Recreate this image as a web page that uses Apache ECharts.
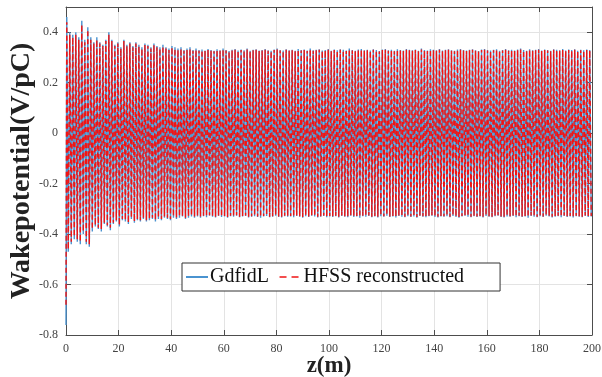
<!DOCTYPE html>
<html>
<head>
<meta charset="utf-8">
<script src="https://cdn.jsdelivr.net/npm/echarts@6/dist/echarts.min.js"></script>
<style>html,body{margin:0;padding:0;background:#fff}#c{width:602px;height:377px}</style>
</head>
<body>
<div id="c"></div>
<script>
// ---- data ----
const xTicks = [0, 20, 40, 60, 80, 100, 120, 140, 160, 180, 200];
const yTicks = [-0.8, -0.6, -0.4, -0.2, 0, 0.2, 0.4];
const seriesNames = ['GdfidL', 'HFSS reconstructed'];
// sampling grid of the extrema (m)
const zFirstPeak = 0.29;
const zHalfPeriod = 0.5714;
// value at z = 0
const gdfidlStart = -0.76;
const hfssStart = -0.68;
// successive maxima / minima of each curve (V/pC)
const gdfidlPeaks = [
0.46,0.40,0.39,0.40,0.38,0.445,0.37,0.42,0.38,0.36,0.38,0.36,0.35,0.37,0.40,
0.37,0.35,0.36,0.34,0.37,0.35,0.36,0.345,0.36,0.35,0.34,0.355,0.35,0.34,0.355,
0.345,0.34,0.35,0.34,0.335,0.345,0.34,0.335,0.34,0.33,0.335,0.34,0.33,0.335,0.33,
0.332,0.328,0.334,0.33,0.327,0.333,0.329,0.335,0.33,0.326,
0.331,0.334,0.328,0.332,0.329,0.335,0.327,0.331,0.333,0.328,
0.33,0.334,0.329,0.327,0.332,0.335,0.33,0.328,0.333,0.329,
0.331,0.327,0.334,0.33,0.332,0.328,0.335,0.329,0.331,0.333,
0.328,0.33,0.334,0.327,0.332,0.329,0.333,0.331,0.328,0.335,
0.33,0.327,0.332,0.334,0.329,0.331,0.328,0.333,0.33,0.326,
0.332,0.334,0.329,0.331,0.327,0.333,0.33,0.328,0.334,0.331,
0.329,0.332,0.327,0.335,0.33,0.328,0.333,0.331,0.329,0.334,
0.328,0.331,0.333,0.329,0.327,0.332,0.334,0.33,0.328,0.331,
0.333,0.329,0.326,0.332,0.334,0.33,0.328,0.331,0.333,0.327,
0.33,0.334,0.329,0.331,0.328,0.332,0.335,0.33,0.327,0.333,
0.329,0.331,0.334,0.328,0.332,0.33,0.327,0.333,0.331,0.329,
0.334,0.328,0.332,0.33,0.333,0.327,0.331,0.329,0.332,0.33
];
const gdfidlTroughs = [
-0.47,-0.44,-0.42,-0.43,-0.44,-0.40,-0.44,-0.45,-0.39,-0.37,-0.38,-0.39,-0.36,-0.37,-0.385,
-0.36,-0.35,-0.37,-0.345,-0.35,-0.36,-0.34,-0.355,-0.345,-0.35,-0.34,-0.35,-0.345,-0.34,-0.35,
-0.34,-0.345,-0.335,-0.34,-0.345,-0.335,-0.34,-0.335,-0.33,-0.34,-0.335,-0.33,-0.335,-0.33,-0.335,
-0.329,-0.333,-0.327,-0.331,-0.334,-0.328,-0.332,-0.33,-0.335,-0.329,
-0.331,-0.327,-0.333,-0.33,-0.328,-0.334,-0.331,-0.329,-0.332,-0.335,
-0.33,-0.328,-0.333,-0.331,-0.327,-0.332,-0.334,-0.329,-0.331,-0.33,
-0.333,-0.328,-0.331,-0.335,-0.329,-0.332,-0.327,-0.33,-0.334,-0.331,
-0.328,-0.333,-0.33,-0.332,-0.329,-0.334,-0.328,-0.331,-0.333,-0.327,
-0.332,-0.33,-0.335,-0.329,-0.331,-0.328,-0.333,-0.33,-0.334,-0.329,
-0.331,-0.327,-0.332,-0.33,-0.334,-0.328,-0.331,-0.333,-0.329,-0.332,
-0.33,-0.335,-0.328,-0.331,-0.333,-0.329,-0.327,-0.332,-0.334,-0.33,
-0.331,-0.329,-0.333,-0.328,-0.332,-0.335,-0.33,-0.327,-0.331,-0.333,
-0.329,-0.332,-0.33,-0.334,-0.328,-0.331,-0.333,-0.329,-0.327,-0.332,
-0.334,-0.33,-0.331,-0.328,-0.333,-0.329,-0.332,-0.33,-0.335,-0.328,
-0.331,-0.333,-0.329,-0.332,-0.327,-0.33,-0.334,-0.331,-0.329,-0.333,
-0.328,-0.332,-0.33,-0.334,-0.329,-0.331,-0.333,-0.328,-0.332,-0.33
];
const hfssPeaks = [
0.44,0.39,0.38,0.39,0.37,0.43,0.36,0.41,0.37,0.355,0.37,0.355,0.345,0.365,0.39,
0.365,0.345,0.355,0.335,0.365,0.345,0.355,0.34,0.355,0.345,0.335,0.35,0.345,0.335,0.35,
0.34,0.335,0.345,0.335,0.33,0.34,0.335,0.33,0.335,0.327,0.33,0.335,0.327,0.33,0.327,
0.329,0.326,0.331,0.328,0.325,0.33,0.327,0.332,0.328,0.324,
0.329,0.331,0.326,0.33,0.327,0.332,0.325,0.329,0.331,0.326,
0.328,0.331,0.327,0.325,0.33,0.332,0.328,0.326,0.331,0.327,
0.329,0.325,0.331,0.328,0.33,0.326,0.332,0.327,0.329,0.331,
0.326,0.328,0.331,0.325,0.33,0.327,0.331,0.329,0.326,0.332,
0.328,0.325,0.33,0.331,0.327,0.329,0.326,0.331,0.328,0.324,
0.33,0.331,0.327,0.329,0.325,0.331,0.328,0.326,0.331,0.329,
0.327,0.33,0.325,0.332,0.328,0.326,0.331,0.329,0.327,0.331,
0.326,0.329,0.331,0.327,0.325,0.33,0.331,0.328,0.326,0.329,
0.331,0.327,0.324,0.33,0.331,0.328,0.326,0.329,0.331,0.325,
0.328,0.331,0.327,0.329,0.326,0.33,0.332,0.328,0.325,0.331,
0.327,0.329,0.331,0.326,0.33,0.328,0.325,0.331,0.329,0.327,
0.331,0.326,0.33,0.328,0.331,0.325,0.329,0.327,0.33,0.328
];
const hfssTroughs = [
-0.46,-0.43,-0.41,-0.42,-0.43,-0.39,-0.43,-0.44,-0.38,-0.365,-0.375,-0.38,-0.355,-0.365,-0.375,
-0.355,-0.345,-0.365,-0.34,-0.345,-0.355,-0.335,-0.35,-0.34,-0.345,-0.335,-0.345,-0.34,-0.335,-0.345,
-0.335,-0.34,-0.33,-0.335,-0.34,-0.33,-0.335,-0.33,-0.327,-0.335,-0.33,-0.327,-0.33,-0.327,-0.33,
-0.327,-0.331,-0.325,-0.329,-0.331,-0.326,-0.33,-0.328,-0.332,-0.327,
-0.329,-0.325,-0.331,-0.328,-0.326,-0.331,-0.329,-0.327,-0.33,-0.332,
-0.328,-0.326,-0.331,-0.329,-0.325,-0.33,-0.331,-0.327,-0.329,-0.328,
-0.331,-0.326,-0.329,-0.332,-0.327,-0.33,-0.325,-0.328,-0.331,-0.329,
-0.326,-0.331,-0.328,-0.33,-0.327,-0.331,-0.326,-0.329,-0.331,-0.325,
-0.33,-0.328,-0.332,-0.327,-0.329,-0.326,-0.331,-0.328,-0.331,-0.327,
-0.329,-0.325,-0.33,-0.328,-0.331,-0.326,-0.329,-0.331,-0.327,-0.33,
-0.328,-0.332,-0.326,-0.329,-0.331,-0.327,-0.325,-0.33,-0.331,-0.328,
-0.329,-0.327,-0.331,-0.326,-0.33,-0.332,-0.328,-0.325,-0.329,-0.331,
-0.327,-0.33,-0.328,-0.331,-0.326,-0.329,-0.331,-0.327,-0.325,-0.33,
-0.331,-0.328,-0.329,-0.326,-0.331,-0.327,-0.33,-0.328,-0.332,-0.326,
-0.329,-0.331,-0.327,-0.33,-0.325,-0.328,-0.331,-0.329,-0.327,-0.331,
-0.326,-0.33,-0.328,-0.331,-0.327,-0.329,-0.331,-0.326,-0.33,-0.328
];

// build [z, value] pairs: start value, then alternating maxima and minima
function buildCurve(start, peaks, troughs) {
  const pts = [[0, start]];
  for (let k = 0; k < peaks.length; k++) {
    pts.push([zFirstPeak + 2 * k * zHalfPeriod, peaks[k]]);
    pts.push([zFirstPeak + (2 * k + 1) * zHalfPeriod, troughs[k]]);
  }
  return pts;
}
const gdfidlData = buildCurve(gdfidlStart, gdfidlPeaks, gdfidlTroughs);
const hfssData = buildCurve(hfssStart, hfssPeaks, hfssTroughs);

const SERIF = '"Liberation Serif", "DejaVu Serif", serif';
const axisColor = '#4d4d4d';
const blue = '#4a93d0';
const red = '#f01414';
const chart = echarts.init(document.getElementById('c'), null, {renderer: 'canvas'});
const xMin = xTicks[0], xMax = xTicks[xTicks.length - 1];
const yStep = 0.2;
const edgeAxis = (pos) => ({
  type: 'value', position: pos,
  axisLine: {show: true, onZero: false, lineStyle: {color: axisColor, width: 1}},
  axisTick: {show: true, inside: true, length: 5, lineStyle: {color: axisColor}},
  axisLabel: {show: false}, splitLine: {show: false}
});
const option = {
  animation: false,
  backgroundColor: '#fff',
  grid: {left: 66, right: 10, top: 7, bottom: 42, containLabel: false, outerBoundsMode: 'none'},
  legend: {
    data: [{name: seriesNames[0]}, {name: seriesNames[1], lineStyle: {type: [7, 5], width: 1.3}}],
    left: 182, top: 263,
    orient: 'horizontal',
    backgroundColor: '#fff',
    borderColor: '#333', borderWidth: 1, borderRadius: 0,
    padding: [4, 36, 4, 3],
    itemWidth: 22, itemHeight: 14, itemGap: 10,
    itemStyle: {opacity: 0},
    textStyle: {fontFamily: SERIF, fontSize: 20, color: '#111', padding: [0, 0, 0, -3]}
  },
  xAxis: [{
    type: 'value', min: xMin, max: xMax, interval: 20, position: 'bottom',
    name: 'z(m)', nameLocation: 'middle', nameGap: 20, nameMoveOverlap: false,
    nameTextStyle: {fontFamily: SERIF, fontSize: 23, fontWeight: 'bold', color: '#222'},
    axisLine: {show: true, onZero: false, lineStyle: {color: axisColor, width: 1}},
    axisTick: {show: true, inside: true, length: 5, lineStyle: {color: axisColor}},
    axisLabel: {fontFamily: SERIF, fontSize: 12, color: '#444', margin: 8},
    splitLine: {show: true, lineStyle: {color: '#e3e3e3', width: 1}}
  }, Object.assign(edgeAxis('top'), {min: xMin, max: xMax, interval: 20})],
  yAxis: [{
    type: 'value', min: -0.8, max: 0.5, interval: yStep, position: 'left',
    name: 'Wakepotential(V/pC)', nameLocation: 'middle', nameGap: 30, nameMoveOverlap: false,
    nameTextStyle: {fontFamily: SERIF, fontSize: 28, fontWeight: 'bold', color: '#222'},
    axisLine: {show: true, onZero: false, lineStyle: {color: axisColor, width: 1}},
    axisTick: {show: true, inside: true, length: 5, lineStyle: {color: axisColor}},
    axisLabel: {fontFamily: SERIF, fontSize: 12, color: '#444', margin: 8, showMaxLabel: false,
      formatter: v => (yTicks.some(t => Math.abs(t - v) < 1e-9) ? String(Math.round(v * 10) / 10) : '')},
    splitLine: {show: true, lineStyle: {color: '#e3e3e3', width: 1}}
  }, Object.assign(edgeAxis('right'), {min: -0.8, max: 0.5, interval: yStep})],
  series: [{
    name: seriesNames[0], type: 'line', data: gdfidlData,
    showSymbol: false, symbol: 'none', silent: true,
    lineStyle: {color: blue, width: 1.4},
    itemStyle: {color: blue}
  }, {
    name: seriesNames[1], type: 'line', data: hfssData,
    showSymbol: false, symbol: 'none', silent: true,
    lineStyle: {color: red, width: 1.4, type: [5, 3]},
    itemStyle: {color: red}
  }]
};
chart.setOption(option);
</script>
</body>
</html>
